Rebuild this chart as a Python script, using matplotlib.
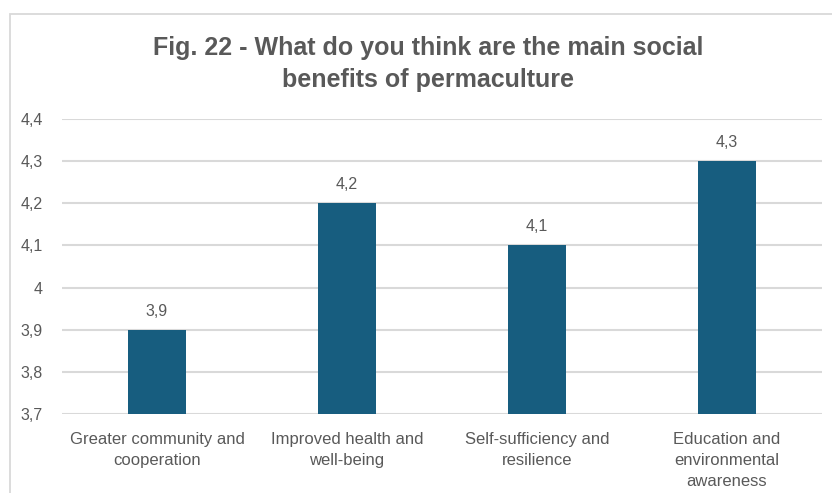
import matplotlib
matplotlib.use("Agg")
import matplotlib.pyplot as plt
from matplotlib.patches import Rectangle
from matplotlib.ticker import FuncFormatter

categories = [
    "Greater community and\ncooperation",
    "Improved health and\nwell-being",
    "Self-sufficiency and\nresilience",
    "Education and\nenvironmental\nawareness",
]
scores = [3.9, 4.2, 4.1, 4.3]
y_ticks = [3.7, 3.8, 3.9, 4.0, 4.1, 4.2, 4.3, 4.4]
title = "Fig. 22 - What do you think are the main social\nbenefits of permaculture"

BAR = "#175d7f"
TXT = "#595959"
GRID = "#d9d9d9"

plt.rcParams["font.family"] = ["Liberation Sans", "DejaVu Sans"]

W, H = 832, 493
fig = plt.figure(figsize=(W / 100, H / 100), dpi=100)
fig.patch.set_facecolor("white")

# outer chart frame
fig.patches.append(Rectangle((10 / W, -0.1), 1.0, (H - 14) / H + 0.1,
                             transform=fig.transFigure, fill=False,
                             edgecolor=GRID, linewidth=1.3))

ax = fig.add_axes([62 / W, 1 - 414 / H, (822 - 62) / W, (414 - 119) / H])
x = list(range(len(categories)))
ax.bar(x, scores, width=0.31, color=BAR, zorder=3)
ax.set_xlim(-0.5, len(categories) - 0.5)
ax.set_ylim(y_ticks[0], y_ticks[-1])
ax.set_yticks(y_ticks)

def fmt(v, _pos=None):
    s = f"{v:.1f}".replace(".", ",")
    return s[:-2] if s.endswith(",0") else s

ax.yaxis.set_major_formatter(FuncFormatter(fmt))
ax.set_xticks(x)
ax.set_xticklabels(categories, fontsize=12, color=TXT, linespacing=1.5)
ax.tick_params(axis="y", labelsize=11.5, labelcolor=TXT, length=0, pad=14)
ax.tick_params(axis="x", length=0, pad=13)
ax.grid(axis="y", color=GRID, linewidth=1.5, zorder=0)
for sp in ax.spines.values():
    sp.set_visible(False)

for xi, v in zip(x, scores):
    ax.annotate(fmt(v), (xi, v), xytext=(0, 8), textcoords="offset points",
                ha="center", va="bottom", fontsize=11.5, color=TXT)

fig.text(428 / W, 1 - 64 / H, title, ha="center", va="center",
         fontsize=18, fontweight="bold", color=TXT, linespacing=1.45)

fig.savefig("out.png", dpi=100, facecolor="white")
